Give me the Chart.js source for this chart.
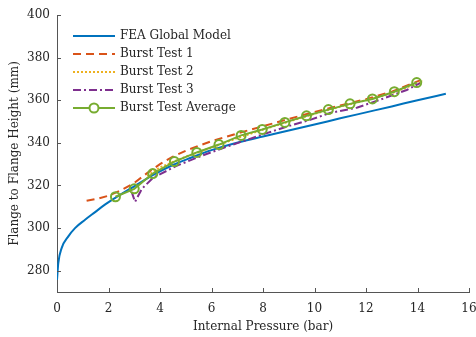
<!DOCTYPE html>
<html lang="en">
<head>
<meta charset="UTF-8" />
<title>Flange to Flange Height</title>
<script src="https://cdn.jsdelivr.net/npm/chart.js@4"></script>
<style>
  html, body { margin: 0; padding: 0; background: white; }
</style>
</head>
<body>
<canvas id="myChart" width="476" height="337"></canvas>
<script>
// values (pressure in bar, height in mm)
const feaX = [0, 0.05, 0.18, 0.44, 0.7, 1.09, 1.48, 1.86, 2.25, 3.0, 3.81, 4.5, 5.2, 6, 7.1, 8, 9, 10, 11, 12, 13, 14, 15.1];
const feaY = [275.7, 283.6, 290.6, 296.1, 300, 303.9, 307.5, 311, 314.1, 319.6, 325.4, 329.6, 333, 336.6, 340.4, 343, 345.8, 348.6, 351.5, 354.3, 357.1, 360, 363];

const test1X = [1.15, 1.6, 2.0, 2.5, 3.0, 3.5, 4.0, 4.5, 5.0, 5.5, 6.0, 6.5, 7.0, 8.0, 9.0, 10.0, 11.0, 12.0, 13.0, 14.1];
const test1Y = [312.8, 313.8, 315.2, 317.8, 321.2, 325.8, 330, 333.5, 336.3, 338.6, 340.8, 342.6, 344.4, 347.8, 351.2, 354.5, 357.5, 360.5, 364, 369.3];

const test2X = [3.5, 4, 5, 6, 7, 8, 9, 10, 11, 12, 13, 14.2];
const test2Y = [324.5, 328.5, 333.5, 337.8, 342.2, 346.2, 350, 353.6, 357, 360, 363.3, 369];

const test3X = [2.9, 3.03, 3.3, 3.73, 4.64, 5.55, 6.45, 7.4, 8.0, 8.92, 9.83, 10.6, 11.64, 12.54, 13.58, 14.1];
const test3Y = [317.0, 312.3, 318.5, 323.6, 329.2, 333.6, 337.6, 341.5, 344.0, 347.6, 350.8, 354.0, 356.5, 360.2, 364.8, 368];

const avgX = [2.27, 3.0, 3.72, 4.56, 5.43, 6.29, 7.15, 7.97, 8.85, 9.69, 10.54, 11.38, 12.25, 13.1, 13.97];
const avgY = [314.7, 318.4, 325.6, 331.2, 335.5, 339.2, 343.5, 346.3, 349.6, 352.7, 355.6, 358.3, 360.6, 364, 368.3];

const xTicks = [0, 2, 4, 6, 8, 10, 12, 14, 16];
const yTicks = [280, 300, 320, 340, 360, 380, 400];

const seriesNames = ['FEA Global Model', 'Burst Test 1', 'Burst Test 2', 'Burst Test 3', 'Burst Test Average'];

function pts(xs, ys) {
  return xs.map((x, i) => ({ x: x, y: ys[i] }));
}

const serif = "'DejaVu Serif', 'Liberation Serif', serif";
const textColor = '#262626';

// small inward tick marks and the legend inside the plot
const matlabLook = {
  id: 'matlabLook',
  afterDraw(chart) {
    const ctx = chart.ctx;
    const xs = chart.scales.x, ys = chart.scales.y;
    const area = chart.chartArea;
    ctx.save();
    ctx.strokeStyle = '#555';
    ctx.lineWidth = 1;
    ctx.setLineDash([]);
    xTicks.forEach(v => {
      const px = Math.round(xs.getPixelForValue(v)) + 0.5;
      ctx.beginPath();
      ctx.moveTo(px, area.bottom);
      ctx.lineTo(px, area.bottom - 4);
      ctx.stroke();
    });
    yTicks.forEach(v => {
      const py = Math.round(ys.getPixelForValue(v)) + 0.5;
      ctx.beginPath();
      ctx.moveTo(area.left, py);
      ctx.lineTo(area.left + 4, py);
      ctx.stroke();
    });

    chart.data.datasets.forEach((ds, i) => {
      const y = 36 + i * 18;
      ctx.strokeStyle = ds.borderColor;
      ctx.lineWidth = ds.borderWidth;
      ctx.setLineDash(ds.borderDash || []);
      ctx.beginPath();
      ctx.moveTo(73, y);
      ctx.lineTo(115, y);
      ctx.stroke();
      ctx.setLineDash([]);
      if (ds.pointRadius > 0) {
        ctx.beginPath();
        ctx.arc(94, y, ds.pointRadius, 0, Math.PI * 2);
        ctx.fillStyle = 'white';
        ctx.fill();
        ctx.lineWidth = ds.pointBorderWidth;
        ctx.stroke();
      }
      ctx.fillStyle = textColor;
      ctx.font = '12px ' + serif;
      ctx.textBaseline = 'middle';
      ctx.textAlign = 'left';
      ctx.fillText(ds.label, 120, y);
    });
    ctx.restore();
  }
};

const ctx = document.getElementById('myChart').getContext('2d');
const myChart = new Chart(ctx, {
  type: 'line',
  data: {
    datasets: [
      {
        label: seriesNames[0],
        data: pts(feaX, feaY),
        borderColor: '#0072BD',
        borderWidth: 2,
        pointRadius: 0,
        cubicInterpolationMode: 'monotone',
        order: 4
      },
      {
        label: seriesNames[1],
        data: pts(test1X, test1Y),
        borderColor: '#D95319',
        borderWidth: 2,
        borderDash: [8, 5],
        pointRadius: 0,
        order: 3
      },
      {
        label: seriesNames[2],
        data: pts(test2X, test2Y),
        borderColor: '#EDB120',
        borderWidth: 2,
        borderDash: [2, 2],
        pointRadius: 0,
        order: 2
      },
      {
        label: seriesNames[3],
        data: pts(test3X, test3Y),
        borderColor: '#7E2F8E',
        borderWidth: 2,
        borderDash: [8, 3, 2, 3],
        pointRadius: 0,
        order: 1
      },
      {
        label: seriesNames[4],
        data: pts(avgX, avgY),
        borderColor: '#77AC30',
        borderWidth: 2,
        pointRadius: 4.5,
        pointBorderWidth: 2,
        pointBorderColor: '#77AC30',
        pointBackgroundColor: 'rgba(255,255,255,0)',
        order: 0
      }
    ]
  },
  options: {
    responsive: false,
    animation: false,
    layout: { padding: { top: 15, right: 7, left: 0, bottom: 0 } },
    plugins: {
      legend: { display: false },
      tooltip: { enabled: false }
    },
    scales: {
      x: {
        type: 'linear',
        min: 0,
        max: 16,
        afterBuildTicks: s => { s.ticks = xTicks.map(v => ({ value: v })); },
        afterFit: s => { s.height = 45; s.paddingRight = 0; s.paddingLeft = 0; },
        grid: { display: false, drawTicks: false },
        border: { display: true, color: '#555', width: 1 },
        ticks: { color: textColor, padding: 10, font: { family: serif, size: 12 } },
        title: {
          display: true,
          text: 'Internal Pressure (bar)',
          color: textColor,
          padding: { top: 0, bottom: 3 },
          font: { family: serif, size: 12 }
        }
      },
      y: {
        type: 'linear',
        min: 270,
        max: 400,
        afterBuildTicks: s => { s.ticks = yTicks.map(v => ({ value: v })); },
        afterFit: s => { s.width = 57; },
        grid: { display: false, drawTicks: false },
        border: { display: true, color: '#555', width: 1 },
        ticks: { color: textColor, padding: 7, font: { family: serif, size: 12 } },
        title: {
          display: true,
          text: 'Flange to Flange Height (mm)',
          color: textColor,
          padding: { top: 8, bottom: 0 },
          font: { family: serif, size: 12 }
        }
      }
    }
  },
  plugins: [matlabLook]
});
</script>
</body>
</html>
